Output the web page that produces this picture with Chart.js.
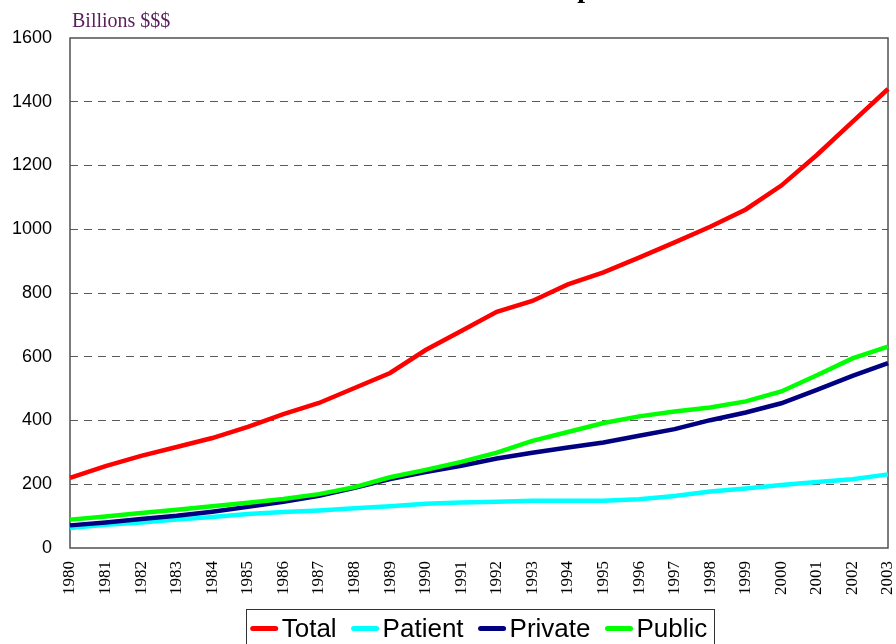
<!DOCTYPE html>
<html><head><meta charset="utf-8">
<script src="https://cdn.jsdelivr.net/npm/chart.js@4"></script>
<style>html,body{margin:0;padding:0;background:#fff}canvas{display:block}</style>
</head><body>
<canvas id="c" width="896" height="644"></canvas>
<script>
const years = ['1980','1981','1982','1983','1984','1985','1986','1987','1988','1989','1990','1991','1992','1993','1994','1995','1996','1997','1998','1999','2000','2001','2002','2003'];
const total   = [220,257,289,317,345,380,420,455,502,549,621,681,741,775,827,865,911,959,1008,1062,1137,1233,1337,1440];
const patient = [63,73,80,89,97,107,113,118,125,131,139,143,145,148,148,148,153,163,177,187,198,207,216,231];
const privateSpend = [71,80,91,101,114,129,145,164,189,216,238,258,281,299,315,331,352,373,401,425,454,496,540,580];
const publicSpend  = [89,99,110,120,131,142,154,169,191,222,245,270,299,336,364,392,413,428,441,460,491,542,595,632];
const seriesNames = ['Total','Patient','Private','Public'];
const yTicks = [0,200,400,600,800,1000,1200,1400,1600];
const titleText = 'National Health Expenditures';
const unitText = 'Billions $$$';

const colors = ['#ff0000','#00ffff','#000080','#00ff00'];

const framePlugin = {
  id: 'frame',
  beforeDatasetsDraw(chart) {
    const {ctx, chartArea: a} = chart;
    ctx.save();
    ctx.strokeStyle = '#505050';
    ctx.lineWidth = 1.5;
    ctx.strokeRect(a.left, a.top, a.right - a.left, a.bottom - a.top);
    ctx.restore();
  }
};

const extrasPlugin = {
  id: 'extras',
  afterDraw(chart) {
    const {ctx, chartArea: a} = chart;
    ctx.save();
    // cut-off title
    ctx.font = 'bold 28px "Liberation Serif", "Times New Roman", serif';
    ctx.fillStyle = '#000';
    ctx.textBaseline = 'alphabetic';
    ctx.textAlign = 'left';
    const pre = 'National Health Ex';
    const w1 = ctx.measureText(pre).width;
    const pw = ctx.measureText('p').width;
    ctx.fillText(titleText, 582 - w1 - pw * 0.3, -3);
    // unit label
    ctx.font = '20px "Liberation Serif", "Times New Roman", serif';
    ctx.fillStyle = '#5a1e5a';
    ctx.fillText(unitText, 72, 27);
    // legend
    ctx.font = '26px "Liberation Sans", Arial, sans-serif';
    const sampleW = 27, gapText = 4, gapItem = 15;
    const items = chart.data.datasets.map((ds) => ({label: ds.label, color: ds.borderColor, tw: ctx.measureText(ds.label).width}));
    let totalW = 0;
    items.forEach((it, i) => { totalW += sampleW + gapText + it.tw + (i < items.length - 1 ? gapItem : 0); });
    const cx = (a.left + a.right) / 2;
    let x = cx - totalW / 2;
    const boxL = x - 5, boxR = x + totalW + 6;
    ctx.fillStyle = '#fff';
    ctx.fillRect(boxL, 609, boxR - boxL, 45);
    ctx.strokeStyle = '#333';
    ctx.lineWidth = 1;
    ctx.strokeRect(Math.round(boxL) + 0.5, 609.5, Math.round(boxR - boxL), 45);
    items.forEach((it) => {
      ctx.strokeStyle = it.color;
      ctx.lineWidth = 5;
      ctx.lineCap = 'round';
      ctx.beginPath();
      ctx.moveTo(x + 2, 628.5);
      ctx.lineTo(x + sampleW - 2, 628.5);
      ctx.stroke();
      ctx.fillStyle = '#000';
      ctx.fillText(it.label, x + sampleW + gapText, 637);
      x += sampleW + gapText + it.tw + gapItem;
    });
    ctx.restore();
  }
};

const seriesData = [total, patient, privateSpend, publicSpend];
const drawOrder = [4, 3, 2, 1];

new Chart(document.getElementById('c'), {
  type: 'line',
  data: {
    labels: years,
    datasets: seriesNames.map((name, i) => ({
      label: name,
      data: seriesData[i],
      borderColor: colors[i],
      backgroundColor: colors[i],
      borderWidth: 4.5,
      pointRadius: 0,
      tension: 0,
      fill: false,
      order: drawOrder[i]
    }))
  },
  options: {
    responsive: false,
    animation: false,
    layout: { padding: { top: 38, right: 8, left: 0, bottom: 0 } },
    plugins: { legend: { display: false }, title: { display: false }, tooltip: { enabled: false } },
    scales: {
      x: {
        offset: false,
        grid: { display: false, drawTicks: false },
        border: { display: false },
        ticks: {
          autoSkip: false, minRotation: 90, maxRotation: 90, padding: 13,
          color: '#000',
          font: { family: '"Liberation Serif", "Times New Roman", serif', size: 17 }
        },
        afterFit(s) { s.height = 96; s.paddingLeft = 0; s.paddingRight = 0; }
      },
      y: {
        min: 0, max: 1600,
        afterBuildTicks(s) { s.ticks = yTicks.map(v => ({value: v})); },
        grid: {
          drawTicks: false,
          color: (c) => (c.tick && (c.tick.value === 0 || c.tick.value === 1600)) ? 'rgba(0,0,0,0)' : '#5a5a5a',
          lineWidth: 1
        },
        border: { display: false, dash: [8, 6] },
        ticks: {
          padding: 18, color: '#000',
          callback: (v) => String(v),
          font: { family: '"Liberation Sans", Arial, sans-serif', size: 18 }
        },
        afterFit(s) { s.width = 70; s.paddingTop = 0; s.paddingBottom = 0; }
      }
    }
  },
  plugins: [framePlugin, extrasPlugin]
});
</script>
</body></html>
